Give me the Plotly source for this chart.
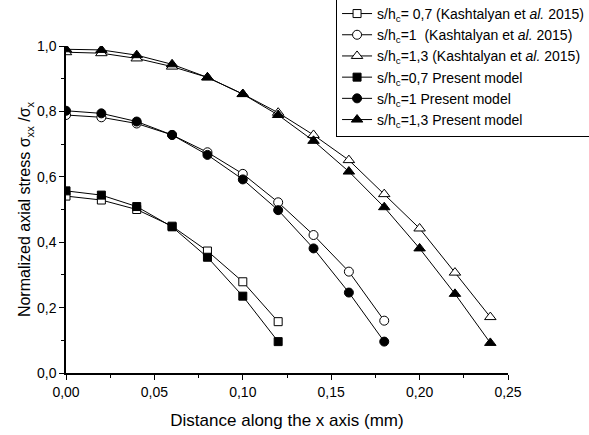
import plotly.graph_objects as go

# Distance along the x axis (mm)
x_07 = [0.00, 0.02, 0.04, 0.06, 0.08, 0.10, 0.12]
x_10 = [0.00, 0.02, 0.04, 0.06, 0.08, 0.10, 0.12, 0.14, 0.16, 0.18]
x_13 = [0.00, 0.02, 0.04, 0.06, 0.08, 0.10, 0.12, 0.14, 0.16, 0.18, 0.20, 0.22, 0.24]

# Kashtalyan et al. 2015
kash_07 = [0.541, 0.529, 0.500, 0.449, 0.373, 0.279, 0.157]
kash_10 = [0.789, 0.782, 0.763, 0.728, 0.675, 0.609, 0.522, 0.422, 0.310, 0.160]
kash_13 = [0.981, 0.978, 0.962, 0.937, 0.904, 0.853, 0.796, 0.728, 0.651, 0.547,
           0.442, 0.307, 0.171]

# Present model
pres_07 = [0.557, 0.544, 0.509, 0.447, 0.354, 0.235, 0.096]
pres_10 = [0.802, 0.794, 0.769, 0.728, 0.667, 0.592, 0.498, 0.381, 0.246, 0.096]
pres_13 = [0.990, 0.988, 0.972, 0.944, 0.904, 0.853, 0.789, 0.710, 0.616, 0.507,
           0.381, 0.242, 0.092]

names = [
    "s/h<sub>c</sub>= 0,7 (Kashtalyan et <i>al.</i> 2015)",
    "s/h<sub>c</sub>=1  (Kashtalyan et <i>al.</i> 2015)",
    "s/h<sub>c</sub>=1,3 (Kashtalyan et <i>al.</i> 2015)",
    "s/h<sub>c</sub>=0,7 Present model",
    "s/h<sub>c</sub>=1 Present model",
    "s/h<sub>c</sub>=1,3 Present model",
]

series = [
    (x_07, kash_07, "square", "white", 8),
    (x_10, kash_10, "circle", "white", 9),
    (x_13, kash_13, "triangle-up", "white", 10),
    (x_07, pres_07, "square", "black", 8),
    (x_10, pres_10, "circle", "black", 9),
    (x_13, pres_13, "triangle-up", "black", 10),
]

FONT = "Arial, 'Liberation Sans', sans-serif"

fig = go.Figure()
for (xs, ys, sym, fill, size), name in zip(series, names):
    fig.add_trace(go.Scatter(
        x=xs, y=ys, name=name, mode="lines+markers",
        line=dict(color="black", width=1),
        marker=dict(symbol=sym, size=size, color=fill,
                    line=dict(color="black", width=1)),
    ))

axis_common = dict(
    showline=True, linecolor="black", linewidth=1.5, mirror=False,
    showgrid=False, zeroline=False,
    ticks="outside", ticklen=5, tickwidth=1.2, tickcolor="black",
    tickfont=dict(family=FONT, size=14, color="black"),
)

fig.update_xaxes(
    range=[0, 0.25], tickvals=[0, 0.05, 0.10, 0.15, 0.20, 0.25],
    tickformat=".2f",
    minor=dict(ticks="outside", ticklen=3, tickwidth=1, tickcolor="black",
               dtick=0.025, tick0=0),
    title=dict(text="Distance along the x axis (mm)",
               font=dict(family=FONT, size=17, color="black"), standoff=16),
    **axis_common,
)
fig.update_yaxes(
    range=[0, 1.0], tickvals=[0, 0.2, 0.4, 0.6, 0.8, 1.0],
    tickformat=".1f",
    minor=dict(ticks="outside", ticklen=3, tickwidth=1, tickcolor="black",
               dtick=0.1, tick0=0),
    title=dict(text="Normalized axial stress σ<sub>xx</sub> /σ<sub>x</sub>",
               font=dict(family=FONT, size=16, color="black"), standoff=2),
    **axis_common,
)

fig.update_layout(
    width=589, height=435,
    margin=dict(l=66, r=81, t=46, b=62, autoexpand=False),
    paper_bgcolor="white", plot_bgcolor="white",
    separators=", ",
    font=dict(family=FONT, size=14, color="black"),
    legend=dict(
        x=0.611, y=1.15, xanchor="left", yanchor="top",
        bordercolor="black", borderwidth=1, bgcolor="white",
        font=dict(family=FONT, size=14, color="black"),
        tracegroupgap=0, itemwidth=30,
    ),
)

fig.write_html("out.html")
